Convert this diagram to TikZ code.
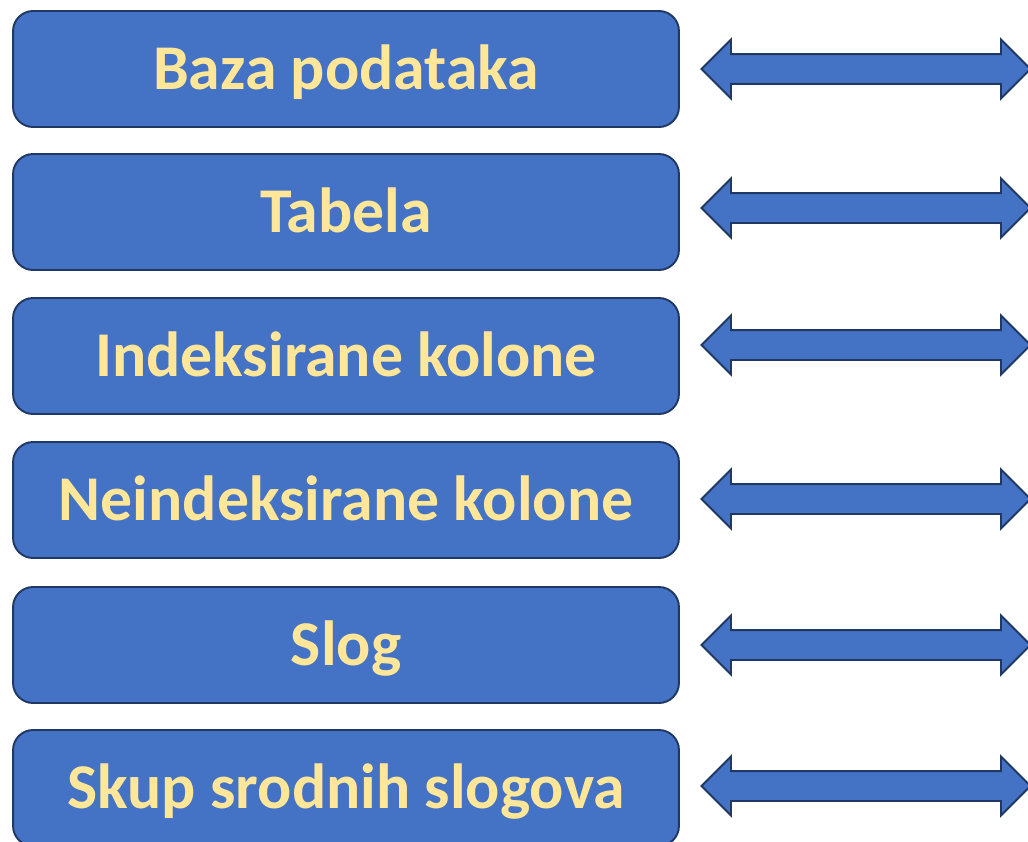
\documentclass[tikz,border=0pt]{standalone}
\usepackage{fontspec}
\setmainfont{Carlito}
\usetikzlibrary{shapes.arrows,positioning}
\definecolor{boxcol}{RGB}{68,114,196}
\definecolor{edgecol}{RGB}{31,56,100}
\definecolor{txtcol}{RGB}{255,230,153}

\begin{document}
\begin{tikzpicture}[
  x=0.02cm, y=-0.02cm,
  term/.style={rectangle, rounded corners=0.4cm, draw=edgecol, line width=1.1pt,
               fill=boxcol, minimum width=13.32cm, minimum height=2.32cm,
               inner sep=0pt, text=txtcol,
               font=\fontsize{36.3}{40}\selectfont\bfseries,
               text height=23.4pt, text depth=0pt},
  link/.style={double arrow, draw=edgecol, line width=1.1pt, fill=boxcol,
               minimum width=0pt, minimum height=6.58cm, inner sep=0pt,
               inner ysep=0.28cm, double arrow head extend=0.29cm,
               double arrow tip angle=90}
]
  \clip (0,0) rectangle (1028,842);
  \fill[white] (0,0) rectangle (1028,842);

  % Terms (left column)
  \foreach \y/\txt [count=\i] in {69/Baza podataka, 212/Tabela,
      356/Indeksirane kolone, 500/Neindeksirane kolone, 645/Slog,
      788/Skup srodnih slogova} {
    \node[term] (box\i) at (346,\y) {\txt};
  }

  % Double arrows (right column)
  \foreach \y [count=\i] in {69,208,345,499,645,786} {
    \node[link] (arr\i) at (866,\y) {};
  }
\end{tikzpicture}
\end{document}
